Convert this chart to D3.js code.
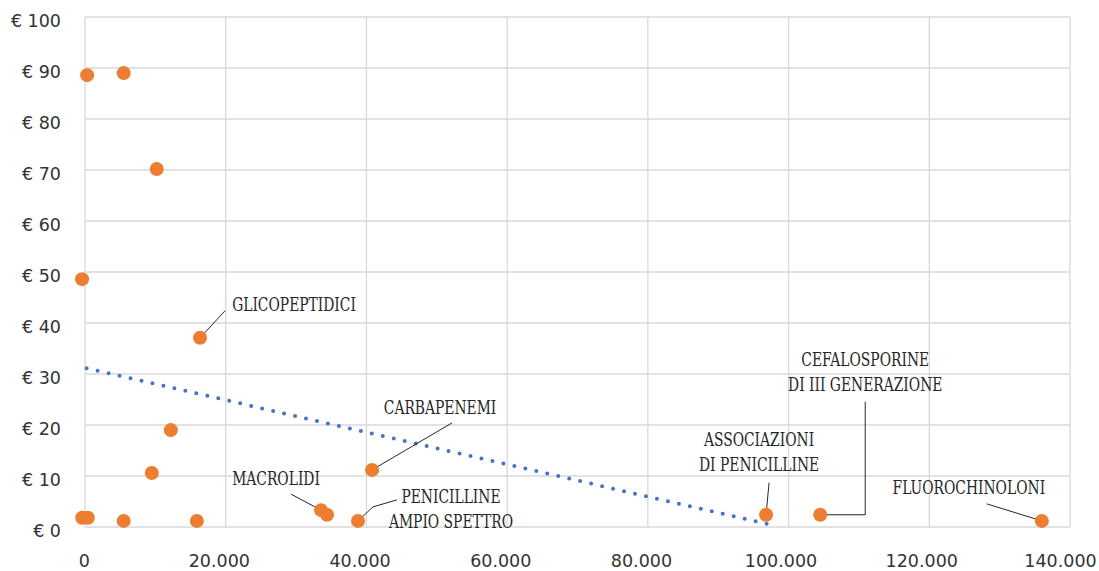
<!DOCTYPE html>
<html>
<head>
<meta charset="utf-8">
<script src="https://cdn.jsdelivr.net/npm/d3@7"></script>
<style>
  html, body { margin: 0; padding: 0; background: #fff; }
  svg { display: block; }
</style>
</head>
<body>
<svg id="chart" width="1099" height="571"></svg>
<script>
// ---- data ----
const pointX = [300, 5500, 10200, -420, 16350, 12200, 9500, -400, 400, 5500, 15900, 33550, 34400, 38800, 40800, 96800, 104500, 136000];
const pointY = [88.6, 89.0, 70.2, 48.6, 37.1, 19.0, 10.6, 1.8, 1.8, 1.2, 1.2, 3.3, 2.4, 1.2, 11.2, 2.4, 2.4, 1.2];
const pointLabel = ["", "", "", "", "GLICOPEPTIDICI", "", "", "", "", "", "", "MACROLIDI", "", "PENICILLINE\nAMPIO SPETTRO", "CARBAPENEMI", "ASSOCIAZIONI\nDI PENICILLINE", "CEFALOSPORINE\nDI III GENERAZIONE", "FLUOROCHINOLONI"];
const trendX = [0, 97000];
const trendY = [31.2, 0.6];
const xTicks = [0, 20000, 40000, 60000, 80000, 100000, 120000, 140000];
const yTicks = [0, 10, 20, 30, 40, 50, 60, 70, 80, 90, 100];

// ---- label layout (pixel offsets from the point) ----
const labelLayout = {
  "GLICOPEPTIDICI": { dx: 94, dy: -27, leader: [[0,0],[25,-27]] },
  "MACROLIDI": { dx: -45, dy: -25, leader: [[0,0],[-30,-16]] },
  "PENICILLINE\nAMPIO SPETTRO": { dx: 93, dy: -18, leader: [[0,0],[15,-14],[39,-21]] },
  "CARBAPENEMI": { dx: 68, dy: -56, leader: [[0,0],[80,-47]] },
  "ASSOCIAZIONI\nDI PENICILLINE": { dx: -7, dy: -69, leader: [[0,0],[3,-32]] },
  "CEFALOSPORINE\nDI III GENERAZIONE": { dx: 45, dy: -149, leader: [[0,0],[45,0],[45,-113]] },
  "FLUOROCHINOLONI": { dx: -73, dy: -27, leader: [[0,0],[-55,-17]] }
};

const margin = { left: 85, right: 29, top: 17, bottom: 44 };
const W = 1099, H = 571;
const svg = d3.select("#chart");

const x = d3.scaleLinear().domain([0, 140000]).range([margin.left, W - margin.right]);
const y = d3.scaleLinear().domain([0, 100]).range([H - margin.bottom, margin.top]);

const loc = d3.formatLocale({ decimal: ",", thousands: ".", grouping: [3], currency: ["€", ""] });
const fmtX = loc.format(",");

// gridlines
const grid = svg.append("g");
grid.selectAll("line.h").data(yTicks).join("line")
  .attr("x1", x(0)).attr("x2", x(140000))
  .attr("y1", d => y(d)).attr("y2", d => y(d))
  .attr("stroke", "#d9d9d9").attr("stroke-width", 1.3);
grid.selectAll("line.v").data(xTicks).join("line")
  .attr("y1", y(0)).attr("y2", y(100))
  .attr("x1", d => x(d)).attr("x2", d => x(d))
  .attr("stroke", "#d9d9d9").attr("stroke-width", 1.3);

const tickFont = "'DejaVu Sans', sans-serif";
// axes
const yAxis = svg.append("g").attr("transform", `translate(${margin.left},0)`)
  .call(d3.axisLeft(y).tickValues(yTicks).tickFormat(d => "€ " + d).tickSize(0).tickPadding(24));
yAxis.select(".domain").remove();
yAxis.selectAll("text").attr("font-family", tickFont).attr("font-size", 17.5)
  .attr("fill", "#333333").attr("dy", "0.53em");

const xAxis = svg.append("g").attr("transform", `translate(0,${H - margin.bottom})`)
  .call(d3.axisBottom(x).tickValues(xTicks).tickFormat(fmtX).tickSize(0));
xAxis.select(".domain").remove();
xAxis.selectAll("text").attr("font-family", tickFont).attr("font-size", 17.5)
  .attr("fill", "#333333").attr("y", 40).attr("dy", 0)
  .attr("dx", d => d === 140000 ? -10 : -(fmtX(d).length * 1.15));

// trendline
const trend = trendX.map((d, i) => [d, trendY[i]]);
svg.append("path")
  .attr("d", d3.line().x(d => x(d[0])).y(d => y(d[1]))(trend))
  .attr("fill", "none").attr("stroke", "#4472c4").attr("stroke-width", 4)
  .attr("stroke-linecap", "round").attr("stroke-dasharray", "0 11.25")
  .attr("stroke-dashoffset", -1.7);

// data
const pts = pointX.map((d, i) => ({ x: d, y: pointY[i], label: pointLabel[i] }));

// leaders
const lbl = svg.append("g");
pts.filter(p => p.label).forEach(p => {
  const L = labelLayout[p.label];
  const px = x(p.x), py = y(p.y);
  lbl.append("path")
    .attr("d", d3.line()(L.leader.map(q => [px + q[0], py + q[1]])))
    .attr("fill", "none").attr("stroke", "#262626").attr("stroke-width", 1);
});

svg.append("g").selectAll("circle").data(pts).join("circle")
  .attr("cx", d => x(d.x)).attr("cy", d => y(d.y)).attr("r", 7)
  .attr("fill", "#ed7d31");

// label texts
pts.filter(p => p.label).forEach(p => {
  const L = labelLayout[p.label];
  const px = x(p.x), py = y(p.y);
  const t = lbl.append("text")
    .attr("font-family", "'DejaVu Serif Condensed', 'DejaVu Serif', serif")
    .attr("font-stretch", "condensed")
    .attr("font-size", 18).attr("fill", "#262626").attr("text-anchor", "middle");
  p.label.split("\n").forEach((line, i) => {
    const ts = t.append("tspan").attr("x", px + L.dx).attr("y", py + L.dy + i * 25).text(line);
    const w = ts.node().getComputedTextLength();
    ts.attr("textLength", w * 0.855).attr("lengthAdjust", "spacingAndGlyphs");
  });
});
</script>
</body>
</html>
